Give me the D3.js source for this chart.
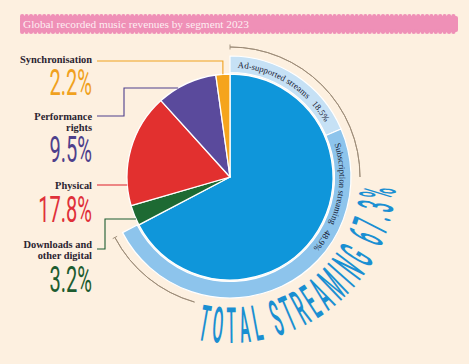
<!DOCTYPE html>
<html><head><meta charset="utf-8">
<script src="https://cdn.jsdelivr.net/npm/d3@7"></script>
<style>html,body{margin:0;padding:0;background:#fdf0e0;}svg{display:block;}</style>
</head><body>
<script>
// ---- data ----
const title = "Global recorded music revenues by segment 2023";
const segments = ["Total streaming", "Downloads and other digital", "Physical", "Performance rights", "Synchronisation"];
const segmentValues = [67.3, 3.2, 17.8, 9.5, 2.2];
const segmentColors = ["#0f96da", "#1d6a33", "#e2302f", "#5a4a9c", "#f5a41c"];
const streamParts = ["Ad-supported streams", "Subscription streaming"];
const streamValues = [18.5, 48.9];
const streamColors = ["#c6e1f5", "#8dc4ec"];
const labelText = [["Synchronisation"], ["Performance", "rights"], ["Physical"], ["Downloads and", "other digital"]];
const labelValues = [2.2, 9.5, 17.8, 3.2];
const labelColors = ["#f0a11e", "#4e3f8c", "#e0303a", "#1d5c30"];
const bigLabel = "TOTAL STREAMING";

const W = 469, H = 364;
const cx = 230, cy = 177, R = 103;
const svg = d3.select("body").append("svg").attr("width", W).attr("height", H);
svg.append("rect").attr("width", W).attr("height", H).attr("fill", "#fdf0e0");

// ---- title bar ----
const tb = svg.append("g");
tb.append("rect").attr("x", 20).attr("y", 16).attr("width", 438).attr("height", 16).attr("rx", 2).attr("fill", "#ef90b7");
const scX = d3.range(22.2, 456.5, 4.4);
tb.selectAll(".st").data(scX).join("circle").attr("cx", d => d).attr("cy", 16.3).attr("r", 2.2).attr("fill", "#ef90b7");
tb.selectAll(".sb").data(scX).join("circle").attr("cx", d => d).attr("cy", 31.7).attr("r", 2.2).attr("fill", "#ef90b7");
tb.append("text").attr("x", 23).attr("y", 28).attr("font-family", "Liberation Serif").attr("font-size", 11.3)
  .attr("fill", "#fdeef2").text(title);

// ---- scales ----
const ang = d3.scaleLinear().domain([0, 100]).range([0, 2 * Math.PI]);
const g = svg.append("g").attr("transform", `translate(${cx},${cy})`);

// pie
const pieData = d3.pie().sort(null).value(d => d.v).startAngle(0).endAngle(ang(d3.sum(segmentValues)))(
  segments.map((s, i) => ({ s, v: segmentValues[i], c: segmentColors[i] })));
const arc = d3.arc().innerRadius(0).outerRadius(R);
g.selectAll(".slice").data(pieData).join("path").attr("d", arc).attr("fill", d => d.data.c)
  .attr("stroke", "#fff").attr("stroke-width", 1.3).attr("stroke-linejoin", "round");

// outer streaming ring
let acc = 0;
const ringData = streamValues.map((v, i) => { const a0 = ang(acc); acc += v; return { a0, a1: ang(acc), name: streamParts[i], v, c: streamColors[i] }; });
const rIn = R + 1.5, rOut = R + 18;
const ringArc = d3.arc().innerRadius(rIn).outerRadius(rOut).startAngle(d => d.a0).endAngle(d => d.a1);
g.selectAll(".ring").data(ringData).join("path").attr("d", ringArc).attr("fill", d => d.c)
  .attr("stroke", "#fff").attr("stroke-width", 1.2);

// ring labels along arc
const rText = rIn + 5;
const pt = (a, r) => [r * Math.sin(a), -r * Math.cos(a)];
const defs = svg.append("defs");
const p0 = pt(0, rText), p1 = pt(ang(acc), rText);
defs.append("path").attr("id", "ringPath")
  .attr("d", `M${p0[0]},${p0[1]} A${rText},${rText} 0 1 1 ${p1[0]},${p1[1]}`)
  .attr("transform", `translate(${cx},${cy})`);
const ringOffsets = [0.07, 0.1];
ringData.forEach((d, i) => {
  svg.append("text").attr("font-family", "Liberation Serif").attr("font-size", 8.8).attr("font-weight", "normal")
    .attr("fill", "#161a33")
    .append("textPath").attr("href", "#ringPath").attr("startOffset", (d.a0 + ringOffsets[i]) * rText)
    .text(`${d.name}\u00a0\u00a0\u00a0${d.v.toFixed(1)}%`);
});

// bracket arc
const rB = 130;
const bracket = d3.arc().innerRadius(rB).outerRadius(rB);
const totalA = ang(segmentValues[0]);
[[0, Math.PI / 2], [ang(54.4), totalA]].forEach(([a0, a1]) => {
  g.append("path").attr("d", bracket({ startAngle: a0, endAngle: a1 })).attr("fill", "none")
    .attr("stroke", "#9b8a76").attr("stroke-width", 0.9);
});
[0, totalA].forEach(a => {
  const q0 = pt(a, rB - 2.5), q1 = pt(a, rB + 2.5);
  g.append("line").attr("x1", q0[0]).attr("y1", q0[1]).attr("x2", q1[0]).attr("y2", q1[1])
    .attr("stroke", "#9b8a76").attr("stroke-width", 0.9);
});

// big curved label
const bigText = `${bigLabel} ${segmentValues[0].toFixed(1)}%`;
const bigSize = 50, rBase = 166, rSpace = 160, sx = 0.31;
const aStart = 191.5 * Math.PI / 180, aEnd = 94 * Math.PI / 180;
const meas = svg.append("text").attr("font-family", "Roboto").attr("font-size", bigSize).attr("font-weight", "500");
const widths = bigText.split("").map(ch => { meas.text(ch === " " ? "\u00a0" : ch); return meas.node().getComputedTextLength() * sx; });
meas.remove();
const arcLen = (aStart - aEnd) * rSpace;
const gap = (arcLen - d3.sum(widths)) / (bigText.length - 1);
let off = 0;
const bg = g.append("g");
bigText.split("").forEach((ch, i) => {
  const w = widths[i];
  const a = aStart - (off + w / 2) / rSpace;
  off += w + gap;
  if (ch === " ") return;
  const p = pt(a, rBase);
  bg.append("text").attr("transform", `translate(${p[0]},${p[1]}) rotate(${a * 180 / Math.PI + 180}) scale(${sx},1)`)
    .attr("text-anchor", "middle").attr("font-family", "Roboto").attr("font-size", bigSize).attr("font-weight", "500")
    .attr("fill", "#1a8fd2").text(ch);
});

// ---- left labels ----
const labelX = 92;
const nameBase = [[63], [120, 130.5], [189], [248, 259]];
const pctBase = [95, 162, 222, 292];
const lg = svg.append("g");
labelText.forEach((lines, i) => {
  lines.forEach((t, j) => {
    lg.append("text").attr("x", labelX).attr("y", nameBase[i][j]).attr("text-anchor", "end")
      .attr("font-family", "Liberation Serif").attr("font-size", 10.4).attr("font-weight", "bold")
      .attr("fill", "#2b2430").text(t);
  });
  lg.append("text").attr("transform", `translate(${labelX},${pctBase[i]}) scale(0.55,1)`).attr("text-anchor", "end")
    .attr("font-family", "Roboto").attr("font-size", 36.5).attr("font-weight", "400")
    .attr("fill", labelColors[i]).text(labelValues[i].toFixed(1) + "%");
});

// leader lines
const circleX = y => cx - Math.sqrt(R * R - (y - cy) * (y - cy));
const syncSlice = pieData[4];
const syncX = cx + R * Math.sin((syncSlice.startAngle + syncSlice.endAngle) / 2);
const syncY = cy - Math.sqrt(R * R - (syncX - cx) * (syncX - cx));
const leaders = [
  [[97, 61], [syncX, 61], [syncX, syncY]],
  [[97, 116], [124, 116], [124, 88], [circleX(88), 88]],
  [[97, 185], [circleX(185), 185]],
  [[97, 249], [105, 249], [105, 219], [circleX(219), 219]]
];
leaders.forEach((pts, i) => {
  lg.append("path").attr("d", d3.line()(pts)).attr("fill", "none").attr("stroke", labelColors[i]).attr("stroke-width", 1.1);
});
</script>
</body></html>
